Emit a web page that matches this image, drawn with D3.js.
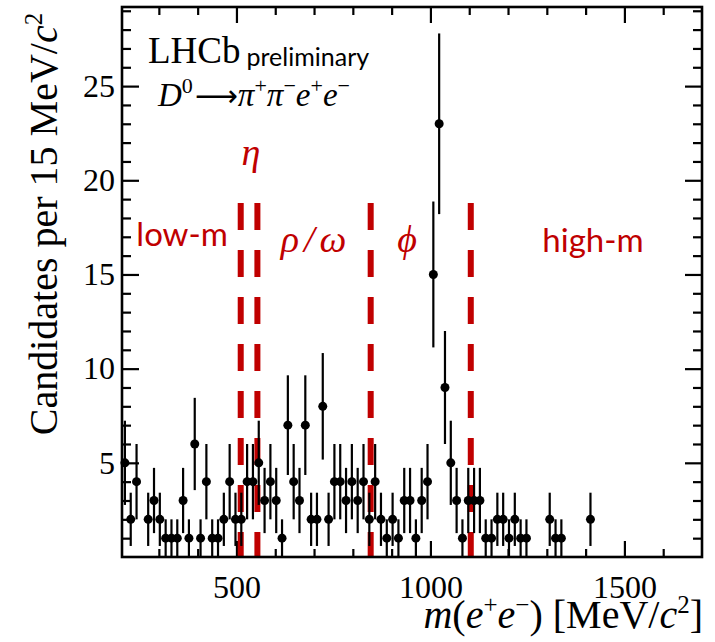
<!DOCTYPE html>
<html>
<head>
<meta charset="utf-8">
<script src="https://cdn.jsdelivr.net/npm/d3@7"></script>
<style>
body { margin: 0; background: #fff; }
svg { display: block; }
</style>
</head>
<body>
<svg id="chart" width="715" height="642"></svg>
<script>
// m(ee) histogram, 15 MeV bins starting at binStart
var binStart = 205
var binWidth = 15
var counts = [5, 2, 4, 0, 2, 3, 2, 1, 1, 1,
    3, 1, 6, 1, 4, 1, 1, 2, 4, 2,
    2, 4, 4, 5, 3, 4, 3, 1, 7, 4,
    3, 7, 2, 2, 8, 2, 4, 4, 3, 4,
    3, 4, 2, 4, 2, 1, 2, 1, 3, 3,
    1, 3, 4, 15, 23, 9, 5, 3, 1, 3,
    3, 3, 1, 1, 2, 2, 1, 2, 1, 1,
    0, 0, 0, 2, 1, 1, 0, 0, 0, 0,
    2]
var xMajor = [500, 1000, 1500]
var xMinor = [300, 400, 600, 700, 800, 900, 1100, 1200, 1300, 1400, 1600]
var yMajor = [5, 10, 15, 20, 25]
var regionEdges = [511, 554, 846, 1104]
var regionNames = ["low-m", "\u03b7", "\u03c1/\u03c9", "\u03d5", "high-m"]

var red = "#c00000"
var serif = "'Liberation Serif', 'Times New Roman', serif"
var sans = "Lato, 'Open Sans', sans-serif"

var margin = {left: 122, top: 7, right: 13, bottom: 85}
var svg = d3.select("#chart")
var W = +svg.attr("width") - margin.left - margin.right
var H = +svg.attr("height") - margin.top - margin.bottom

var x = d3.scaleLinear().domain([binStart, 1700]).range([0, W])
var y = d3.scaleLinear().domain([0, 29.2]).range([H, 0])

var g = svg.append("g")
    .attr("transform", "translate(" + margin.left + "," + margin.top + ")")

var yMinor = d3.range(1, 30).filter(function(v) { return v % 5 !== 0 })

// writes a list of [text, italic, superscript] pieces into a text node
function rich(sel, pieces, supSize, lift) {
    var up = false
    pieces.forEach(function(p) {
        var t = sel.append("tspan").text(p[0])
        if (p[1]) t.style("font-style", "italic")
        if (p[2]) t.style("font-size", supSize)
        if (p[2] && !up) t.attr("dy", -lift)
        if (!p[2] && up) t.attr("dy", lift)
        up = !!p[2]
    })
}

function ticks(axis, vals, size, labels, pad) {
    return axis.tickValues(vals).tickSize(size).tickPadding(pad || 0)
        .tickFormat(labels ? d3.format("d") : "")
}

// tick marks on all four sides, pointing in
var axes = [
    [d3.axisBottom(x), "translate(0," + H + ")", xMinor, xMajor, -8, -16, true, 18],
    [d3.axisTop(x), "translate(0,0)", xMinor, xMajor, -8, -16, false],
    [d3.axisLeft(y), "translate(0,0)", yMinor, yMajor, -9, -17, true, 7],
    [d3.axisRight(y), "translate(" + W + ",0)", yMinor, yMajor, -9, -17, false]
]
axes.forEach(function(a) {
    var gm = g.append("g").attr("transform", a[1])
        .call(ticks(a[0], a[2], a[4], false))
    var gM = g.append("g").attr("transform", a[1])
        .call(ticks(a[0], a[3], a[5], a[6], a[7]))
    ;[gm, gM].forEach(function(s) {
        s.attr("font-family", serif).attr("font-size", 32)
        s.select(".domain").remove()
        s.selectAll("line").attr("stroke", "#000").attr("stroke-width", 2.2)
        s.selectAll("text").attr("fill", "#000")
    })
})

// region boundaries
g.selectAll(".edge").data(regionEdges).enter().append("line")
    .attr("class", "edge")
    .attr("x1", function(d) { return x(d) })
    .attr("x2", function(d) { return x(d) })
    .attr("y1", y(18.8))
    .attr("y2", H)
    .attr("stroke", red)
    .attr("stroke-width", 6)
    .attr("stroke-dasharray", "27,20")

// region labels, roughly centred between the edges
var bounds = [binStart].concat(regionEdges).concat([1700])
var labelNudge = [2, 5, 5, -35, 17]
var labelLevel = [16.5, 20.8, 16.2, 16.2, 16.2]
regionNames.forEach(function(name, i) {
    var greek = i >= 1 && i <= 3
    g.append("text")
        .attr("x", x((bounds[i] + bounds[i + 1]) / 2 + labelNudge[i]))
        .attr("y", y(labelLevel[i]))
        .attr("text-anchor", "middle")
        .attr("fill", red)
        .style("font-family", greek ? serif : sans)
        .style("font-style", greek ? "italic" : "normal")
        .style("font-size", greek ? "38px" : "33px")
        .style("letter-spacing", i === 2 ? "5px" : null)
        .text(name)
})

// data points with sqrt(N) errors
var pts = counts.map(function(c, i) {
    return {m: binStart + binWidth * (i + 0.5), n: c}
}).filter(function(d) { return d.n > 0 })

g.selectAll(".err").data(pts).enter().append("line")
    .attr("class", "err")
    .attr("x1", function(d) { return x(d.m) })
    .attr("x2", function(d) { return x(d.m) })
    .attr("y1", function(d) { return y(Math.max(0, d.n - Math.sqrt(d.n))) })
    .attr("y2", function(d) { return y(d.n + Math.sqrt(d.n)) })
    .attr("stroke", "#000")
    .attr("stroke-width", 2.2)

g.selectAll(".pt").data(pts).enter().append("circle")
    .attr("class", "pt")
    .attr("cx", function(d) { return x(d.m) })
    .attr("cy", function(d) { return y(d.n) })
    .attr("r", 4.5)
    .attr("fill", "#000")

// frame
g.append("rect")
    .attr("width", W).attr("height", H)
    .attr("fill", "none").attr("stroke", "#000").attr("stroke-width", 2.6)

// LHCb label
var lhcb = g.append("text")
    .attr("x", 26).attr("y", 56)
    .style("font-family", serif).style("font-size", "37px")
lhcb.append("tspan").text("LHCb")
lhcb.append("tspan").attr("dx", 6).attr("dy", 3)
    .style("font-family", sans).style("font-size", "25px").text("preliminary")

var decay = g.append("text")
    .attr("x", 36).attr("y", 99)
    .style("font-family", serif).style("font-size", "33px")
rich(decay, [["D", 1, 0], ["0", 0, 1]], "22px", 13)
decay.append("tspan").attr("dy", 13).attr("dx", 2)
    .style("font-family", "'DejaVu Sans', sans-serif").style("font-size", "30px")
    .text("\u27f6")
rich(decay, [["\u03c0", 1, 0], ["+", 0, 1], ["\u03c0", 1, 0], ["\u2212", 0, 1],
    ["e", 1, 0], ["+", 0, 1], ["e", 1, 0], ["\u2212", 0, 1]], "22px", 13)

// axis titles
var xt = svg.append("text")
    .attr("x", 703).attr("y", 628)
    .attr("text-anchor", "end")
    .style("font-family", serif).style("font-size", "40px")
rich(xt, [["m", 1, 0], ["(", 0, 0], ["e", 1, 0], ["+", 0, 1], ["e", 1, 0],
    ["\u2212", 0, 1], [") [MeV/", 0, 0], ["c", 1, 0], ["2", 0, 1], ["]", 0, 0]], "25px", 15)

var yt = svg.append("text")
    .attr("transform", "translate(57,224) rotate(-90)")
    .attr("text-anchor", "middle")
    .style("font-family", serif).style("font-size", "40px")
rich(yt, [["Candidates per 15 MeV/", 0, 0], ["c", 1, 0], ["2", 0, 1]], "25px", 15)
</script>
</body>
</html>
